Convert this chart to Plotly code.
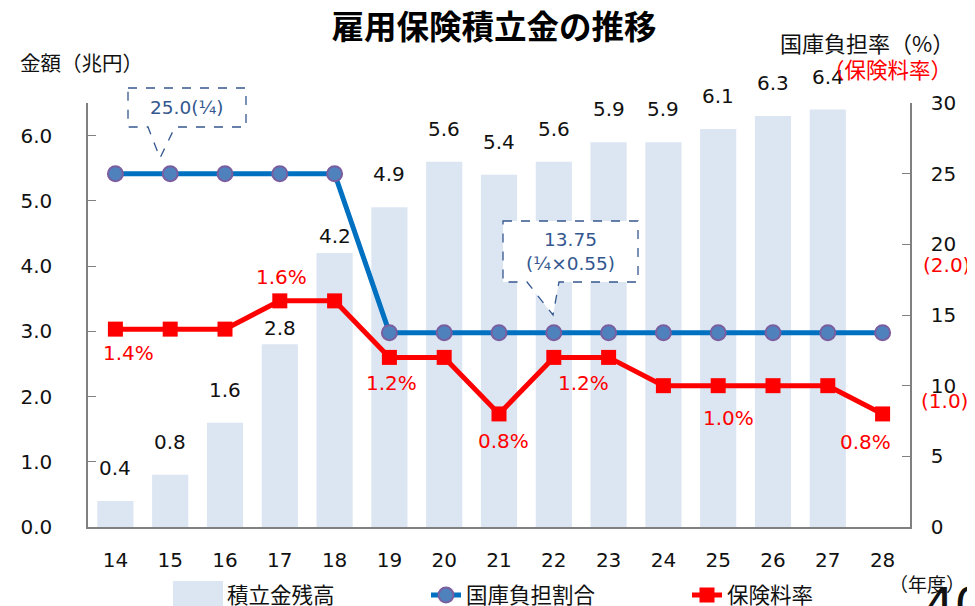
import plotly.graph_objects as go

# 年度 (平成)
years = ['14', '15', '16', '17', '18', '19', '20', '21', '22', '23', '24', '25', '26', '27', '28']
# 積立金残高 (兆円) - 28年度は棒なし
reserve = [0.4, 0.8, 1.6, 2.8, 4.2, 4.9, 5.6, 5.4, 5.6, 5.9, 5.9, 6.1, 6.3, 6.4, None]
# 国庫負担割合 (%)
subsidy = [25.0, 25.0, 25.0, 25.0, 25.0, 13.75, 13.75, 13.75, 13.75, 13.75, 13.75, 13.75, 13.75, 13.75, 13.75]
# 保険料率 (%)
premium = [1.4, 1.4, 1.4, 1.6, 1.6, 1.2, 1.2, 0.8, 1.2, 1.2, 1.0, 1.0, 1.0, 1.0, 0.8]
# 保険料率のラベルを付ける年度
premium_labels = {'14': '1.4%', '17': '1.6%', '19': '1.2%', '21': '0.8%',
                  '22': '1.2%', '25': '1.0%', '28': '0.8%'}

W, H = 975, 606
PAGE = 8                          # body margin of the html page
L, R, T, B = 88, 910, 103, 527    # plot area, page pixels

def px(x):
    return (x - L) / (R - L)

def py(y):
    return (B - y) / (B - T)

FONT = "Verdana, 'DejaVu Sans', 'Noto Sans CJK JP', sans-serif"
JP = "'Noto Sans CJK JP', sans-serif"
BLUE_TXT = '#34578F'
BAR_COLOR = '#DCE6F2'

fig = go.Figure()
fig.add_trace(go.Bar(
    x=years, y=reserve, name='積立金残高',
    marker=dict(color=BAR_COLOR, line=dict(width=0)),
    width=0.66, yaxis='y', legend='legend'
))
fig.add_trace(go.Scatter(
    x=years, y=subsidy, name='国庫負担割合', mode='lines+markers',
    line=dict(color='#0070C0', width=5),
    marker=dict(symbol='circle', size=15, color='#4F81BD',
                line=dict(color='#7A5EA0', width=2)),
    yaxis='y2', legend='legend2'
))
fig.add_trace(go.Scatter(
    x=years, y=[p * 10 for p in premium], name='保険料率', mode='lines+markers',
    line=dict(color='#FF0000', width=5),
    marker=dict(symbol='square', size=15, color='#FF0000'),
    yaxis='y2', legend='legend3'
))

ann = []
# 棒の値ラベル (カテゴリ位置は番号で指定)
bar_shift = {'17': 16, '18': 17}
for i, (yr, v) in enumerate(zip(years, reserve)):
    if v is None:
        continue
    ann.append(dict(x=i, y=v, xref='x', yref='y', text=f'{v:.1f}', showarrow=False,
                    xanchor='center', yanchor='middle', yshift=bar_shift.get(yr, 33),
                    font=dict(size=20, color='#111111', family=FONT)))

# 保険料率ラベル
lab_shift = {'14': (13, -24), '17': (2, 24), '19': (2, -26), '21': (4, -27),
             '22': (30, -26), '25': (10, -32), '28': (-17, -28)}
for i, (yr, p) in enumerate(zip(years, premium)):
    if yr in premium_labels:
        dx, dy = lab_shift[yr]
        ann.append(dict(x=i, y=p * 10, xref='x', yref='y2', text=premium_labels[yr],
                        showarrow=False, xshift=dx, yshift=dy,
                        xanchor='center', yanchor='middle',
                        font=dict(size=20, color='#FF0000', family=FONT)))


def label(x, y, text, size, color='#111111', family=FONT, xa='center', ya='middle'):
    return dict(x=px(x), y=py(y), xref='paper', yref='paper', text=text, showarrow=False,
                xanchor=xa, yanchor=ya, font=dict(size=size, color=color, family=family))


ann += [
    # 吹き出しの文字
    label(187, 107, '25.0(¼)', 18.5, BLUE_TXT),
    label(570, 251, '13.75<br>(¼×0.55)', 18.5, BLUE_TXT),
    # 軸の見出しなど
    label(18, 62, '金額（兆円）', 20.5, family=JP, xa='left'),
    label(956, 42, '国庫負担率（%）', 22, family=JP, xa='right'),
    label(954, 68, '（保険料率）', 21.5, '#FF0000', family=JP, xa='right'),
    label(946, 265, '(2.0)', 20, '#FF0000'),
    label(944, 401, '(1.0)', 20, '#FF0000'),
    label(927, 583, '（年度）', 19, family=JP),
    label(922, 575, '40', 48, xa='left', ya='top'),
]


def callout(pts):
    d = 'M ' + ' L '.join(f'{px(a):.5f},{py(b):.5f}' for a, b in pts) + ' Z'
    return dict(type='path', path=d, xref='paper', yref='paper', layer='above',
                fillcolor='white', line=dict(color=BLUE_TXT, width=1.3, dash='dash'))


shapes = [
    callout([(128, 88), (246, 88), (246, 127), (175, 127), (160, 158), (148, 127), (128, 127)]),
    callout([(503, 221), (638, 221), (638, 282), (559, 282), (553, 315), (527, 282), (503, 282)]),
    # slide frame edge on the left
    dict(type='path', path=f'M {px(-5)},{py(297)} L {px(4.5)},{py(297)} L {px(4.5)},{py(620)}',
         xref='paper', yref='paper', line=dict(color='#C0504D', width=5)),
    # wide swatch for the bar legend item
    dict(type='rect', x0=px(173), x1=px(223), y0=py(581), y1=py(612), xref='paper', yref='paper',
         fillcolor=BAR_COLOR, line=dict(width=0), layer='below'),
]

legend_common = dict(orientation='h', yanchor='middle', y=py(595), xanchor='left',
                     font=dict(size=21.5, family=JP, color='#111111'),
                     bgcolor='rgba(0,0,0,0)')

fig.update_layout(
    width=W, height=H,
    margin=dict(l=L - PAGE, r=W - R + PAGE, t=T - PAGE, b=H - B + PAGE, autoexpand=False),
    paper_bgcolor='white', plot_bgcolor='white',
    font=dict(family=FONT, size=20, color='#111111'),
    title=dict(text='<b>雇用保険積立金の推移</b>', x=486 / W, xanchor='center',
               y=1 - (28 - PAGE) / H, yanchor='middle', yref='container',
               font=dict(size=32.5, family=JP, color='#000000')),
    showlegend=True,
    legend=dict(x=px(187), **legend_common),
    legend2=dict(x=px(426), **legend_common),
    legend3=dict(x=px(687), **legend_common),
    xaxis=dict(type='category', categoryorder='array', categoryarray=years,
               range=[-0.5, len(years) - 0.5],
               showline=True, linecolor='#808080', linewidth=1.5, ticks='',
               showgrid=False, ticklabelstandoff=14, tickfont=dict(size=20), tickangle=0),
    yaxis=dict(range=[0, 6.5], tickvals=[0, 1, 2, 3, 4, 5, 6],
               ticktext=['0.0', '1.0', '2.0', '3.0', '4.0', '5.0', '6.0'],
               showline=True, linecolor='#808080', linewidth=1.5, ticks='inside',
               ticklen=8, tickcolor='#808080', showgrid=False, zeroline=False,
               ticklabelstandoff=30, tickfont=dict(size=20)),
    yaxis2=dict(range=[0, 30], dtick=5, overlaying='y', side='right',
                showline=True, linecolor='#808080', linewidth=1.5, ticks='inside',
                ticklen=8, tickcolor='#808080', showgrid=False, zeroline=False,
                ticklabelstandoff=15, tickfont=dict(size=20)),
    annotations=ann,
    shapes=shapes,
)

fig.write_html("out.html")
